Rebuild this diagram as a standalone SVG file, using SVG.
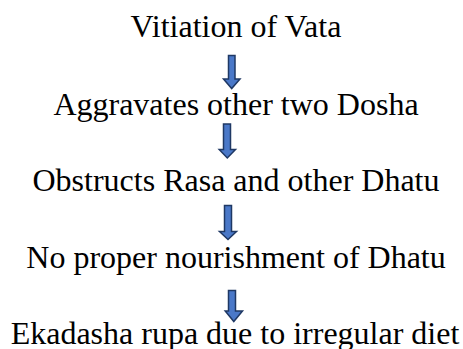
<svg xmlns="http://www.w3.org/2000/svg" width="463" height="349" viewBox="0 0 463 349">
<rect width="463" height="349" fill="#fff"/>
<g id="vitiation-of-vata"><text x="236" y="37" font-size="32" text-anchor="middle" style="font-family:'Liberation Serif'">Vitiation of Vata</text></g>
<g id="aggravates-dosha"><text x="236" y="115" font-size="32" text-anchor="middle" style="font-family:'Liberation Serif'">Aggravates other two Dosha</text></g>
<g id="obstructs-rasa"><text x="236" y="191" font-size="32" text-anchor="middle" style="font-family:'Liberation Serif'">Obstructs Rasa and other Dhatu</text></g>
<g id="no-nourishment"><text x="236" y="268" font-size="32" text-anchor="middle" style="font-family:'Liberation Serif'">No proper nourishment of Dhatu</text></g>
<g id="ekadasha-rupa"><text x="235" y="344" font-size="32" text-anchor="middle" style="font-family:'Liberation Serif'">Ekadasha rupa due to irregular diet</text></g>
<g id="connectors" fill="#4A78C8" stroke="#1F3864" stroke-width="1.5">
<path d="M228.5,55.5 H235 V79 H240 L231.7,88.5 L223.5,79 H228.5 Z"/>
<path d="M223.5,124 H230.5 V149.5 H235.5 L227.3,158 L219.2,149.5 H223.5 Z"/>
<path d="M224.5,205.5 H231.5 V231.5 H236.5 L228,239.5 L219.5,231.5 H224.5 Z"/>
<path d="M228.5,290.5 H235.5 V311 H242.5 L233.8,321.5 L225.2,311 H228.5 Z"/>
</g>
</svg>
